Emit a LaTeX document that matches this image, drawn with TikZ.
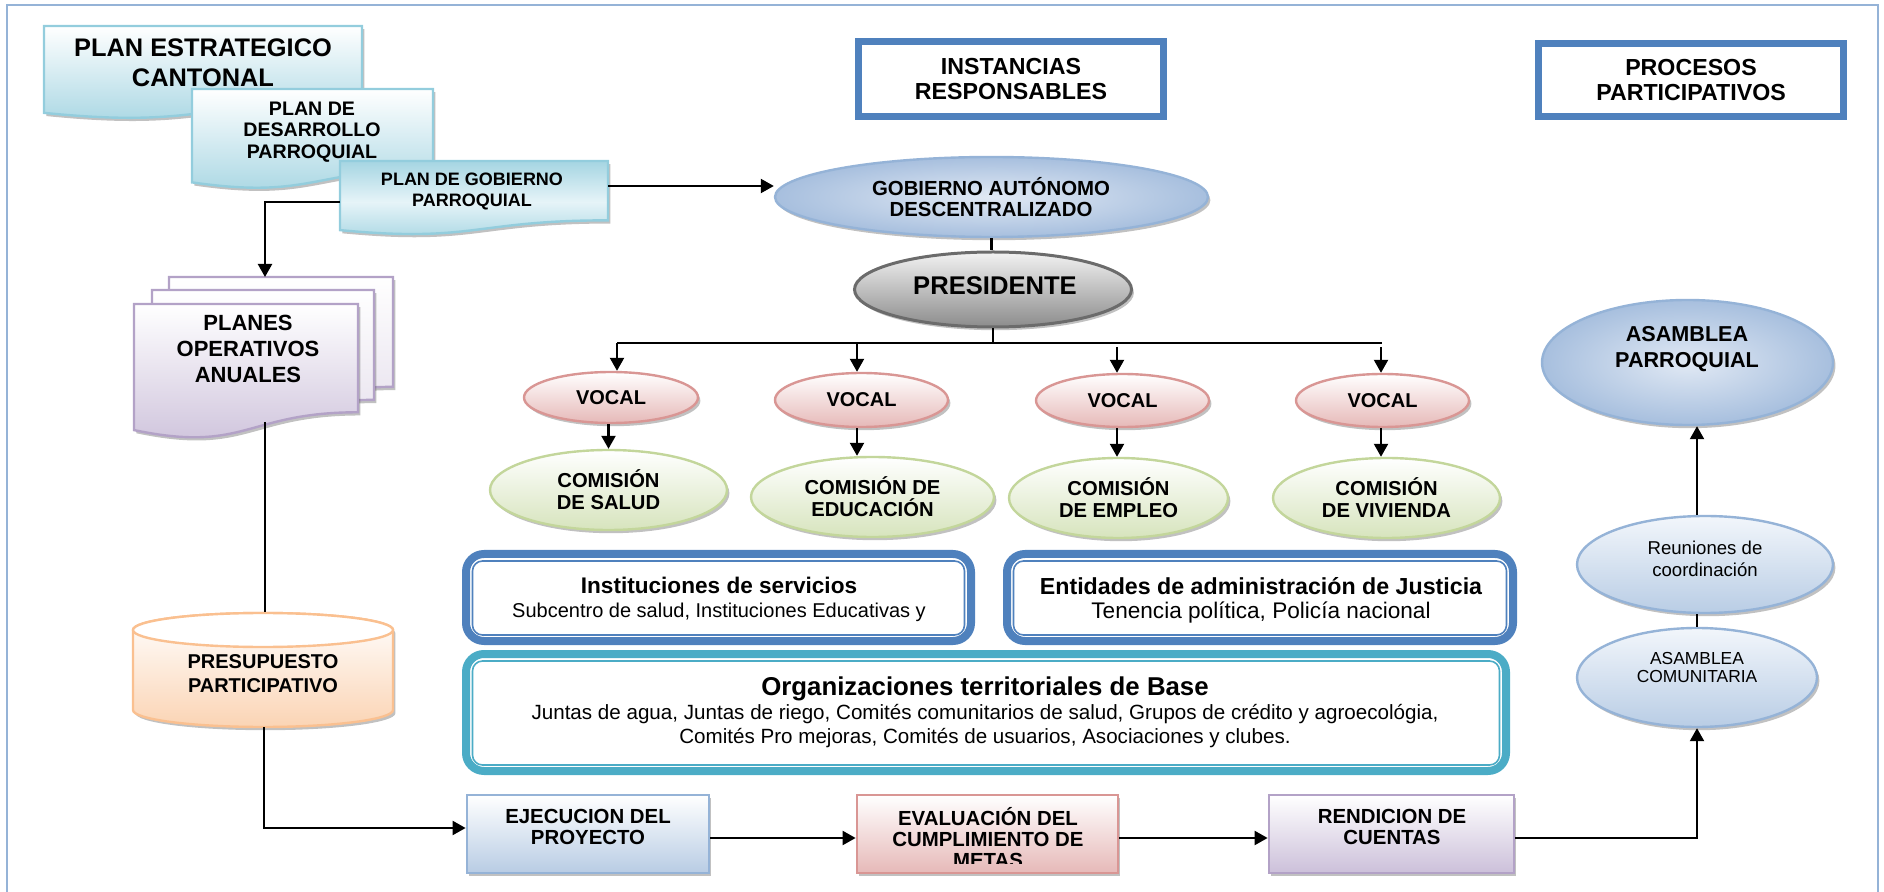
\documentclass[tikz,border=0pt]{standalone}
\usepackage{fontspec}
\setmainfont{Liberation Sans}
\usetikzlibrary{shapes.geometric,arrows.meta,shadows}
\definecolor{frameblue}{HTML}{95B3D7}
\definecolor{hdrblue}{HTML}{4F81BD}
\definecolor{cyanb}{HTML}{93CDDD}
\definecolor{cyanf}{HTML}{A5D5E2}
\definecolor{cyanl}{HTML}{E6F4F8}
\definecolor{lavb}{HTML}{B3A2C7}
\definecolor{lavf}{HTML}{CCC0DA}
\definecolor{lavl}{HTML}{E5DFEC}
\definecolor{peachb}{HTML}{FAC090}
\definecolor{peachf}{HTML}{FBD4B4}
\definecolor{blueb}{HTML}{95B3D7}
\definecolor{bluef}{HTML}{B9CDE5}
\definecolor{bluel}{HTML}{E1E9F4}
\definecolor{bluem}{HTML}{A7BFDE}
\definecolor{bluexl}{HTML}{F2F6FB}
\definecolor{redb}{HTML}{D99694}
\definecolor{redf}{HTML}{E6B9B8}
\definecolor{greenb}{HTML}{C3D69B}
\definecolor{greenf}{HTML}{D7E4BD}
\definecolor{tealb}{HTML}{4BACC6}
\definecolor{grayb}{HTML}{6B6B6B}
\definecolor{grayf}{HTML}{8C8C8C}
\definecolor{grayl}{HTML}{F2F2F2}
\definecolor{ejecf}{HTML}{B8CCE4}
\newcommand\fsz[2]{\fontsize{#1}{#2}\selectfont}
\newcommand\docpath[4]{(#1,#2) -- (#3,#2) -- (#3,{#2+0.802*#4}) .. controls ({(#1+#3)/2},{#2+0.802*#4}) and ({(#1+#3)/2},{#2+1.1075*#4}) .. (#1,{#2+0.934*#4}) -- cycle}
\begin{document}
\begin{tikzpicture}[x=0.5pt,y=-0.5pt,
 shad/.style={drop shadow={shadow xshift=1.2pt,shadow yshift=-1.6pt,opacity=0.35,fill=black!70}},
 conn/.style={draw=black,line width=1.1pt},
 arr/.style={conn,-{Triangle[length=6.5pt,width=7pt]}},
 ellbox/.style={ellipse,inner sep=0pt,line width=1.2pt,align=center},
 lbl/.style={inner sep=0pt,align=center},
 hdr/.style={rectangle,draw=hdrblue,line width=3.5pt,fill=white,inner sep=0pt,align=center,font=\bfseries\fsz{11.6}{12.5}},
 procbox/.style={rectangle,inner sep=0pt,line width=1.4pt,shad,top color=white},
 docline/.style={line width=1.2pt},
]
\useasboundingbox (0,0) rectangle (1884,892);
\draw[frameblue,line width=1pt] (7,5) rectangle (1878,930);

% headers
\node[hdr,minimum width=152.5pt,minimum height=37.5pt] (inst) at (1011,79) {INSTANCIAS\\RESPONSABLES};
\node[hdr,minimum width=152.5pt,minimum height=36.5pt] (proc) at (1691,80) {PROCESOS\\PARTICIPATIVOS};

% plan documents
\path[shad,docline,draw=cyanb,top color=white,bottom color=cyanf] \docpath{44}{26}{362}{93};
\node[lbl,font=\bfseries\fsz{12.7}{15}] (pect) at (203,62.5) {PLAN ESTRATEGICO\\CANTONAL};
\path[shad,docline,draw=cyanb,top color=white,bottom color=cyanf] \docpath{192}{89}{433}{100};
\node[lbl,font=\bfseries\fsz{9.8}{10.75}] (dest) at (312,132) {PLAN DE\\DESARROLLO\\PARROQUIAL};
\path[shad,docline,draw=cyanb,top color=cyanf,bottom color=cyanf,middle color=cyanl] \docpath{340}{161}{608}{74};
\node[lbl,font=\bfseries\fsz{9}{10.5}] (gobt) at (472,191) {PLAN DE GOBIERNO\\PARROQUIAL};

% planes operativos (multidocument)
\path[shad,docline,draw=lavb,top color=white,bottom color=lavl] \docpath{169}{277}{393}{137};
\path[shad,docline,draw=lavb,top color=white,bottom color=lavl] \docpath{152}{290}{374}{137};
\path[shad,docline,draw=lavb,top color=white,bottom color=lavf] \docpath{134}{304}{358}{135};
\node[lbl,font=\bfseries\fsz{11}{13}] (planest) at (248,348.5) {PLANES\\OPERATIVOS\\ANUALES};

% presupuesto cylinder
\path[shad,draw=peachb,line width=1.2pt,top color=white,bottom color=peachf]
  (133,630) -- (133,710) arc[start angle=180,end angle=0,x radius=130,y radius=17]
  -- (393,630) arc[start angle=0,end angle=-180,x radius=130,y radius=17] -- cycle;
\draw[peachb,line width=1.2pt,fill=white] (263,630) ellipse[x radius=130,y radius=17];
\node[lbl,font=\bfseries\fsz{10}{12}] (presut) at (263,673.5) {PRESUPUESTO\\PARTICIPATIVO};

% instancias
\node[ellbox,shad,draw=blueb,inner color=bluel,outer color=bluem,minimum width=216.5pt,minimum height=40pt] (gad) at (991.5,197) {};
\node[lbl,font=\bfseries\fsz{10.2}{10.5}] (gadt) at (991,197) {GOBIERNO AUTÓNOMO\\DESCENTRALIZADO};
\node[ellbox,shad,draw=grayb,line width=1.5pt,top color=grayl,bottom color=grayf,minimum width=138.5pt,minimum height=37.5pt] (pres) at (993,289.5) {};
\node[lbl,font=\bfseries\fsz{12.8}{13}] (prest) at (995,286) {PRESIDENTE};

\node[ellbox,shad,draw=redb,top color=white,bottom color=redf,minimum width=87pt,minimum height=25.5pt,font=\bfseries\fsz{10}{11}] (v1) at (611,397.5) {VOCAL};
\node[ellbox,shad,draw=redb,top color=white,bottom color=redf,minimum width=86.5pt,minimum height=27pt,font=\bfseries\fsz{10}{11}] (v2) at (861.5,400) {VOCAL};
\node[ellbox,shad,draw=redb,top color=white,bottom color=redf,minimum width=86.5pt,minimum height=26.5pt,font=\bfseries\fsz{10}{11}] (v3) at (1122.5,400.5) {VOCAL};
\node[ellbox,shad,draw=redb,top color=white,bottom color=redf,minimum width=86.5pt,minimum height=26.5pt,font=\bfseries\fsz{10}{11}] (v4) at (1382.5,400.5) {VOCAL};

\node[ellbox,shad,draw=greenb,top color=white,bottom color=greenf,minimum width=118.5pt,minimum height=40pt,font=\bfseries\fsz{10.1}{11}] (c1) at (608.5,490) {COMISIÓN\\DE SALUD};
\node[ellbox,shad,draw=greenb,top color=white,bottom color=greenf,minimum width=121.5pt,minimum height=40pt,font=\bfseries\fsz{10.1}{11}] (c2) at (872.5,497) {COMISIÓN DE\\EDUCACIÓN};
\node[ellbox,shad,draw=greenb,top color=white,bottom color=greenf,minimum width=109.5pt,minimum height=40pt,font=\bfseries\fsz{10.1}{11}] (c3) at (1118.5,498) {COMISIÓN\\DE EMPLEO};
\node[ellbox,shad,draw=greenb,top color=white,bottom color=greenf,minimum width=113.5pt,minimum height=40pt,font=\bfseries\fsz{10.1}{11}] (c4) at (1386.5,498) {COMISIÓN\\DE VIVIENDA};

% double border boxes
\draw[hdrblue,line width=4pt,rounded corners=9pt,fill=white] (466,554) rectangle (971,641);
\draw[hdrblue,line width=0.8pt,rounded corners=5pt] (472.5,561) rectangle (964.5,635);
\node[lbl,font=\fsz{10}{12}] (instt) at (719,599) {{\bfseries\fsz{11.3}{12}Instituciones de servicios}\\Subcentro de salud, Instituciones Educativas y};

\draw[hdrblue,line width=4pt,rounded corners=9pt,fill=white] (1007,554) rectangle (1513,641);
\draw[hdrblue,line width=0.8pt,rounded corners=5pt] (1013.5,561) rectangle (1506.5,635);
\node[lbl,font=\fsz{11.3}{12}] (entt) at (1261,600) {{\bfseries\fsz{11.6}{12}Entidades de administración de Justicia}\\Tenencia política, Policía nacional};

\draw[tealb,line width=4pt,rounded corners=9pt,fill=white] (466,654) rectangle (1506,771);
\draw[tealb,line width=0.8pt,rounded corners=5pt] (472.5,661) rectangle (1499.5,765);
\node[lbl,font=\fsz{10.3}{12}] (orgt) at (985,712) {{\bfseries\fsz{12.9}{12}Organizaciones territoriales de Base}\\Juntas de agua, Juntas de riego, Comités comunitarios de salud, Grupos de crédito y agroecológia,\\Comités Pro mejoras, Comités de usuarios, Asociaciones y clubes.};

% process boxes
\node[procbox,draw=blueb,bottom color=ejecf,minimum width=121pt,minimum height=39pt] (ejec) at (588,834) {};
\node[lbl,font=\bfseries\fsz{10.2}{10.5}] (eject) at (588,827) {EJECUCION DEL\\PROYECTO};
\node[procbox,draw=redb,bottom color=redf,minimum width=130.5pt,minimum height=39pt] (eval) at (987.5,834) {};
\begin{scope}
\clip (859,797) rectangle (1116,863);
\node[lbl,font=\bfseries\fsz{10.2}{10.5}] (evalt) at (988,837.5) {EVALUACIÓN DEL\\CUMPLIMIENTO DE\\METAS};
\end{scope}
\node[procbox,draw=lavb,bottom color=lavf,minimum width=122.5pt,minimum height=39pt] (rend) at (1391.5,834) {};
\node[lbl,font=\bfseries\fsz{10.2}{10.5}] (rendt) at (1392,827) {RENDICION DE\\CUENTAS};

% procesos participativos
\node[ellbox,shad,draw=blueb,inner color=bluel,outer color=bluem,minimum width=145.5pt,minimum height=62.5pt] (ap) at (1687.5,362.5) {};
\node[lbl,font=\bfseries\fsz{10.8}{13}] (apt) at (1687,349.5) {ASAMBLEA\\PARROQUIAL};
\node[ellbox,shad,draw=blueb,top color=bluexl,bottom color=bluef,minimum width=128pt,minimum height=48.5pt] (reun) at (1705,564.5) {};
\node[lbl,font=\fsz{9.3}{11}] (reunt) at (1705,558.5) {Reuniones de\\coordinación};
\node[ellbox,shad,draw=blueb,top color=bluexl,bottom color=bluef,minimum width=120pt,minimum height=49.5pt] (comu) at (1697,677.5) {};
\node[lbl,font=\fsz{8.7}{9}] (comut) at (1697,668) {ASAMBLEA\\COMUNITARIA};

% connectors
\coordinate (gobR) at (608,186);
\coordinate (gobL) at (340,202);
\coordinate (planesTop) at (265,277);
\coordinate (planesBot) at (265,422);
\coordinate (cylTop) at (264,612);
\coordinate (cylBot) at (264,727);
\coordinate (b1) at (617,343);
\coordinate (b2) at (857,343);
\coordinate (b3) at (1117,347);
\coordinate (b4) at (1381,347);
\coordinate (bEnd) at (1382,343);

\draw[arr] (gobR) -- (gobR -| gad.west);
\draw[arr] (gobL) -| (planesTop);
\draw[conn] (planesBot) -- (planesBot |- cylTop);
\draw[arr] (cylBot) |- ([yshift=3pt]ejec.west);
\draw[arr] ([yshift=-2pt]ejec.east) -- ([yshift=-2pt]eval.west);
\draw[arr] ([yshift=-2pt]eval.east) -- ([yshift=-2pt]rend.west);
\draw[arr] ([yshift=-2pt]rend.east) -| (comu.south);
\draw[conn] (comu.north) -- (comu.north |- reun.south);
\draw[arr] (comu.north |- reun.north) -- (comu.north |- ap.south);

\draw[conn] (gad.south) -- (gad.south |- pres.north);
\draw[conn] (pres.south) -- (pres.south |- b1);
\draw[conn] (b1) -- (bEnd);
\draw[arr] (b1) -- (b1 |- v1.north);
\draw[arr] (b2) -- (b2 |- v2.north);
\draw[arr] (b3) -- (b3 |- v3.north);
\draw[arr] (b4) -- (b4 |- v4.north);
\draw[arr] (c1.north |- v1.south) -- (c1.north);
\draw[arr] (b2 |- v2.south) -- (b2 |- c2.north);
\draw[arr] (b3 |- v3.south) -- (b3 |- c3.north);
\draw[arr] (b4 |- v4.south) -- (b4 |- c4.north);
\end{tikzpicture}
\end{document}
